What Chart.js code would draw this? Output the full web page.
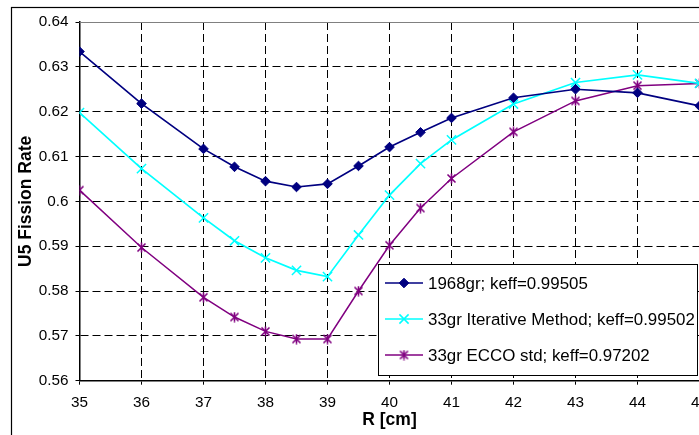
<!DOCTYPE html>
<html>
<head>
<meta charset="utf-8">
<script src="https://cdn.jsdelivr.net/npm/chart.js@4/dist/chart.umd.min.js"></script>
<style>
html, body { margin: 0; padding: 0; background: #fff; overflow: hidden; }
#wrap { position: absolute; left: 0; top: 0; width: 760px; height: 435px; }
</style>
</head>
<body>
<div id="wrap"><canvas id="fissionChart" width="760" height="435"></canvas></div>
<script>
const rValues = [35, 36, 37, 37.5, 38, 38.5, 39, 39.5, 40, 40.5, 41, 42, 43, 44, 45];

const rate1968 = [0.6334, 0.6218, 0.6117, 0.6077, 0.6045, 0.6032, 0.6039, 0.6079, 0.6121, 0.6154, 0.6186, 0.6231, 0.6250, 0.6242, 0.6213];
const rateIter = [0.6198, 0.6073, 0.5963, 0.5912, 0.5874, 0.5846, 0.5832, 0.5925, 0.6014, 0.6084, 0.6137, 0.6217, 0.6265, 0.6282, 0.6263];
const rateEcco = [0.6025, 0.5897, 0.5786, 0.5742, 0.5710, 0.5693, 0.5693, 0.5800, 0.5902, 0.5985, 0.6051, 0.6155, 0.6224, 0.6258, 0.6263];

const seriesNames = [
    "1968gr; keff=0.99505",
    "33gr Iterative Method; keff=0.99502",
    "33gr ECCO std; keff=0.97202"
];

const FONT = "'Liberation Sans', Arial, sans-serif";

// asterisk marker like the excel one
const star = document.createElement("canvas");
star.width = 11;
star.height = 11;
const sc = star.getContext("2d");
sc.strokeStyle = "#800080";
sc.lineWidth = 1.6;
sc.beginPath();
sc.moveTo(1.5, 1.5); sc.lineTo(9.5, 9.5);
sc.moveTo(9.5, 1.5); sc.lineTo(1.5, 9.5);
sc.moveTo(5.5, 0.5); sc.lineTo(5.5, 10.5);
sc.stroke();

function pts(vals){
    return rValues.map((r, i) => ({ x: r, y: vals[i] }));
}

const frame = {
    id: "frame",
    beforeDraw(chart){
        const c = chart.ctx;
        c.save();
        c.fillStyle = "#fff";
        c.fillRect(0, 0, chart.width, chart.height);
        c.strokeStyle = "#000";
        c.lineWidth = 1.2;
        c.strokeRect(11.5, 7.5, 900, 600);
        c.restore();
    },
    beforeDatasetsDraw(chart){
        const a = chart.chartArea;
        const c = chart.ctx;
        c.save();
        c.strokeStyle = "#808080";
        c.lineWidth = 1;
        c.beginPath();
        c.moveTo(a.left, a.top + 0.5);
        c.lineTo(a.right, a.top + 0.5);
        c.stroke();
        c.restore();
    },
    afterDraw(chart){
        const c = chart.ctx;
        const bx = 378.5, by = 264.5, bw = 319, bh = 111;
        c.save();
        c.fillStyle = "#fff";
        c.fillRect(bx, by, bw, bh);
        c.strokeStyle = "#000";
        c.lineWidth = 1;
        c.strokeRect(bx, by, bw, bh);
        chart.data.datasets.forEach((ds, i) => {
            const y = 283 + i * 36;
            c.strokeStyle = ds.borderColor;
            c.fillStyle = ds.pointBackgroundColor;
            c.lineWidth = ds.borderWidth;
            c.beginPath();
            c.moveTo(385, y);
            c.lineTo(423, y);
            c.stroke();
            c.lineWidth = ds.pointBorderWidth;
            Chart.helpers.drawPoint(c, {
                pointStyle: ds.pointStyle,
                radius: ds.pointRadius,
                borderWidth: ds.pointBorderWidth,
                rotation: 0
            }, 404, y);
            c.fillStyle = "#000";
            c.font = "16.9px " + FONT;
            c.textBaseline = "middle";
            c.textAlign = "left";
            c.fillText(ds.label, 428, y + 1);
        });
        c.restore();
    }
};

function gridCol(ctx, skip){
    const v = ctx.tick ? ctx.tick.value : null;
    if(v === null) return "#000";
    for(const s of skip){
        if(Math.abs(v - s) < 1e-6) return "rgba(0,0,0,0)";
    }
    return "#000";
}

new Chart(document.getElementById("fissionChart"), {

    type: "line",

    data: {
        datasets: [
            {
                label: seriesNames[0],
                data: pts(rate1968),
                borderColor: "#000080",
                backgroundColor: "#000080",
                pointBackgroundColor: "#000080",
                pointBorderColor: "#000080",
                borderWidth: 1.7,
                pointStyle: "rectRot",
                pointRadius: 4.8,
                pointBorderWidth: 1,
                tension: 0
            },
            {
                label: seriesNames[1],
                data: pts(rateIter),
                borderColor: "#00ffff",
                backgroundColor: "#00ffff",
                pointBackgroundColor: "#00ffff",
                pointBorderColor: "#00ffff",
                borderWidth: 1.7,
                pointStyle: "crossRot",
                pointRadius: 6.5,
                pointBorderWidth: 1.5,
                tension: 0
            },
            {
                label: seriesNames[2],
                data: pts(rateEcco),
                borderColor: "#800080",
                backgroundColor: "#800080",
                pointBackgroundColor: "#800080",
                pointBorderColor: "#800080",
                borderWidth: 1.5,
                pointStyle: star,
                pointRadius: 5,
                pointBorderWidth: 1.5,
                tension: 0
            }
        ]
    },

    options: {
        responsive: false,
        animation: false,
        devicePixelRatio: 1,
        layout: {
            padding: { top: 22, right: 60.5, bottom: 0, left: 0 }
        },
        plugins: {
            legend: { display: false },
            tooltip: { enabled: false }
        },
        scales: {
            x: {
                type: "linear",
                min: 35,
                max: 45,
                afterFit: s => { s.height = 54.3; },
                ticks: {
                    stepSize: 1,
                    color: "#000",
                    padding: 9.3,
                    font: { family: FONT, size: 15.3 },
                    callback: v => String(v)
                },
                grid: {
                    color: ctx => gridCol(ctx, [35, 45]),
                    lineWidth: 1,
                    tickLength: 4,
                    tickColor: "#000",
                    tickWidth: 1,
                    tickBorderDash: []
                },
                border: { display: true, color: "#000", width: 1.5, dash: [8, 4] },
                title: {
                    display: true,
                    text: "R [cm]",
                    color: "#000",
                    font: { family: FONT, size: 17.5, weight: "bold" },
                    padding: { top: 0, bottom: 4.5 }
                }
            },
            y: {
                min: 0.56,
                max: 0.64,
                afterFit: s => { s.width = 79.5; },
                ticks: {
                    stepSize: 0.01,
                    color: "#000",
                    padding: 7,
                    font: { family: FONT, size: 15.3 },
                    callback: v => String(+v.toFixed(2))
                },
                grid: {
                    color: ctx => gridCol(ctx, [0.56, 0.64]),
                    lineWidth: 1,
                    tickLength: 4,
                    tickColor: "#000",
                    tickWidth: 1,
                    tickBorderDash: []
                },
                border: { display: true, color: "#000", width: 1.5, dash: [8, 4] },
                title: {
                    display: true,
                    text: "U5 Fission Rate",
                    color: "#000",
                    font: { family: FONT, size: 17.5, weight: "bold" },
                    padding: { top: 15.5, bottom: 0 }
                }
            }
        }
    },

    plugins: [frame]

});
</script>
</body>
</html>
